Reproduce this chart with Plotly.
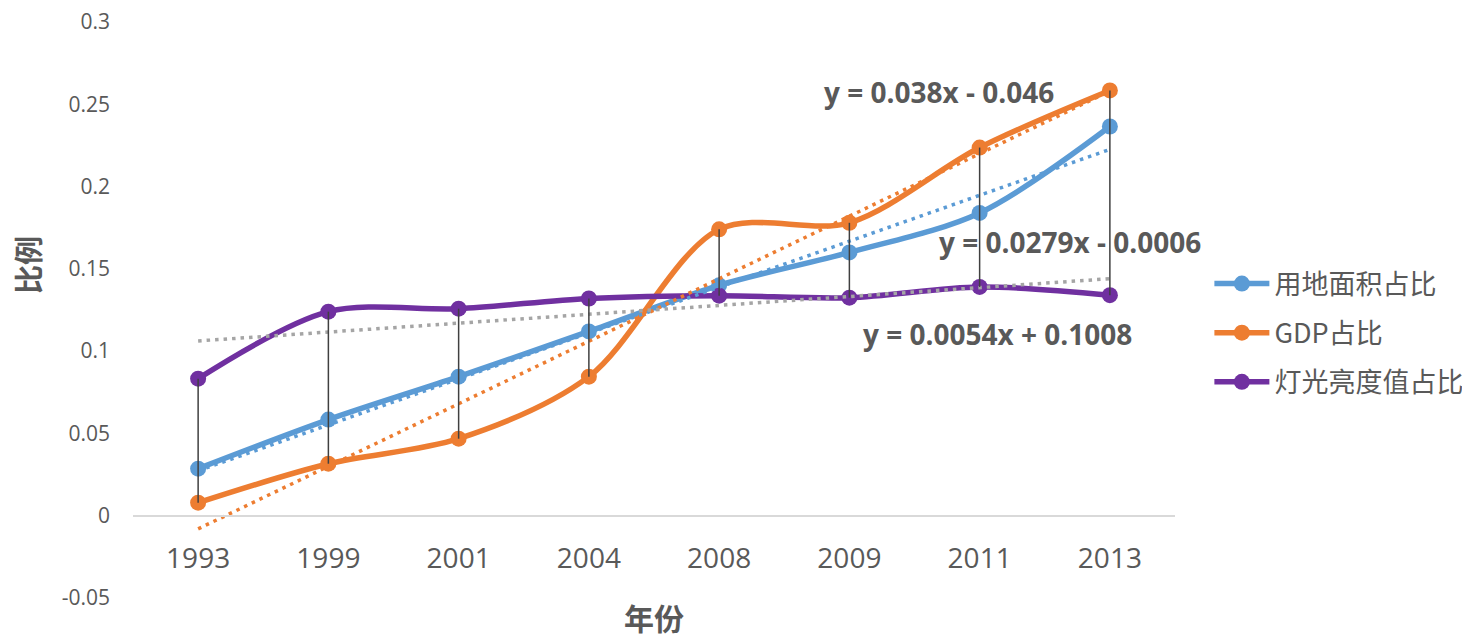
import plotly.graph_objects as go

# ---- data ----
years = ["1993", "1999", "2001", "2004", "2008", "2009", "2011", "2013"]
land_share = [0.0286, 0.0584, 0.0845, 0.1120, 0.1400, 0.1600, 0.1840, 0.2365]
gdp_share = [0.0079, 0.0316, 0.0468, 0.0845, 0.1740, 0.1780, 0.2237, 0.2584]
light_share = [0.0833, 0.1240, 0.1258, 0.1320, 0.1337, 0.1325, 0.1390, 0.1340]

series_names = ["用地面积占比", "GDP占比", "灯光亮度值占比"]

# linear trend coefficients (x = 1..8)
trend_slope = [0.0279, 0.038, 0.0054]
trend_intercept = [-0.0006, -0.046, 0.1008]
trend_labels = ["y = 0.0279x - 0.0006", "y = 0.038x - 0.046", "y = 0.0054x + 0.1008"]

y_ticks = [-0.05, 0, 0.05, 0.1, 0.15, 0.2, 0.25, 0.3]
y_tick_text = ["-0.05", "0", "0.05", "0.1", "0.15", "0.2", "0.25", "0.3"]

# ---- styling ----
line_colors = ["#5B9BD5", "#ED7D31", "#7030A0"]
trend_colors = ["#5B9BD5", "#ED7D31", "#A5A5A5"]
text_color = "#595959"
font_family = "Open Sans, Noto Sans CJK SC, sans-serif"
cjk_family = "Noto Sans CJK SC, sans-serif"

fig = go.Figure()

all_series = [land_share, gdp_share, light_share]

# smoothed series lines with markers
for name, vals, col in zip(series_names, all_series, line_colors):
    fig.add_trace(go.Scatter(
        x=years, y=vals, name=name, mode="lines+markers",
        line=dict(color=col, width=5.5, shape="spline", smoothing=0.9),
        marker=dict(color=col, size=16),
        legendgroup=name,
    ))

# dotted linear trend lines
for k, (a, b, col) in enumerate(zip(trend_slope, trend_intercept, trend_colors)):
    ty = [a * (i + 1) + b for i in range(len(years))]
    fig.add_trace(go.Scatter(
        x=years, y=ty, mode="lines", showlegend=False, hoverinfo="skip",
        line=dict(color=col, width=3.5, dash="3.5px,5px"),
    ))

# high-low lines between the largest and smallest value in each year
hx, hy = [], []
for i, yr in enumerate(years):
    vals = [s[i] for s in all_series]
    hx += [yr, yr, None]
    hy += [max(vals), min(vals), None]
fig.add_trace(go.Scatter(
    x=hx, y=hy, mode="lines", showlegend=False, hoverinfo="skip",
    line=dict(color="#404040", width=1.5),
))

# trend equations
label_pos = [(6.69, 0.1666), (5.69, 0.2572), (6.14, 0.1106)]
for txt, (px, py) in zip(trend_labels, label_pos):
    fig.add_annotation(
        x=px, y=py, xref="x", yref="y", text="<b>%s</b>" % txt,
        showarrow=False, xanchor="center", yanchor="middle",
        font=dict(family=font_family, size=28, color=text_color),
    )

# vertical axis title
fig.add_annotation(
    x=-0.1017, y=0.578, xref="paper", yref="paper", text="<b>比例</b>",
    textangle=-90, showarrow=False, xanchor="center", yanchor="middle",
    font=dict(family=cjk_family, size=29, color=text_color),
)

fig.update_layout(
    width=1462, height=639,
    margin=dict(l=133, r=287, t=22, b=41, autoexpand=False),
    paper_bgcolor="white", plot_bgcolor="white",
    font=dict(family=font_family, color=text_color),
    showlegend=True,
    legend=dict(
        x=1.033, y=0.46, xanchor="left", yanchor="middle",
        font=dict(family=cjk_family, size=27, color=text_color),
        itemwidth=55, tracegroupgap=11, bgcolor="rgba(0,0,0,0)",
    ),
    xaxis=dict(
        type="category", range=[-0.5, 7.5],
        anchor="free", position=1 / 7,
        showline=True, linecolor="#D9D9D9", linewidth=1.5,
        showgrid=False, zeroline=False, ticks="",
        ticklabelstandoff=18,
        tickfont=dict(family=font_family, size=28, color=text_color),
        title=dict(text="<b>年份</b>", standoff=44,
                   font=dict(family=cjk_family, size=30, color=text_color)),
        automargin=False,
    ),
    yaxis=dict(
        range=[-0.05, 0.3], tickvals=y_ticks, ticktext=y_tick_text,
        showline=False, showgrid=False, zeroline=False, ticks="",
        ticklabelstandoff=22,
        tickfont=dict(family=font_family, size=21, color=text_color),
        automargin=False,
    ),
)

fig.write_html("out.html")
